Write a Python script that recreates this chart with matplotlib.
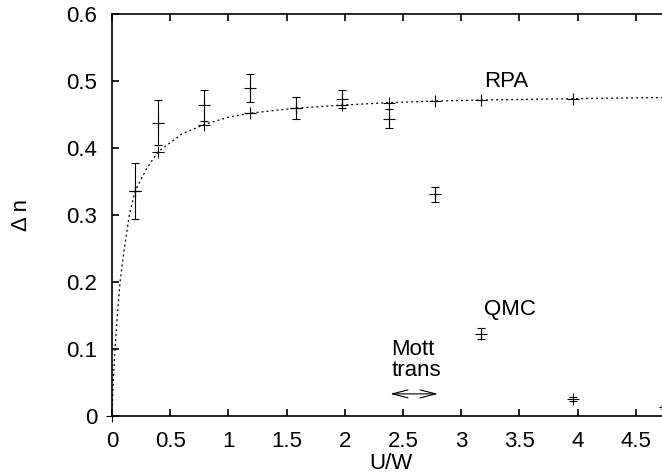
#!/usr/bin/env python3

import matplotlib
matplotlib.use('Agg')
import matplotlib.pyplot as plt

# RPA curve (dotted line)
rpa_curve_x = [0, 0.004, 0.01, 0.026, 0.046, 0.069, 0.106, 0.149, 0.198, 0.3, 0.396,
               0.6, 0.792, 1.0, 1.188, 1.584, 1.98, 2.376, 2.772, 3.168, 3.96, 4.8]
rpa_curve_y = [0, 0.02, 0.05, 0.1, 0.15, 0.2, 0.25, 0.3, 0.336, 0.37, 0.3945,
               0.421, 0.435, 0.446, 0.452, 0.4595, 0.464, 0.4677, 0.470, 0.4716, 0.4736, 0.4755]

# RPA points (+ markers)
rpa_x = [0, 0.198, 0.396, 0.792, 1.188, 1.584, 1.98, 2.376, 2.772, 3.168, 3.96]
rpa_y = [0, 0.336, 0.3945, 0.435, 0.452, 0.459, 0.464, 0.4677, 0.470, 0.4716, 0.4736]

# QMC points with error bars
qmc_x = [0.198, 0.396, 0.792, 1.188, 1.584, 1.98, 2.376, 2.772, 3.168, 3.96, 4.752]
qmc_y = [0.336, 0.438, 0.464, 0.489, 0.460, 0.473, 0.444, 0.331, 0.123, 0.025, 0.014]
qmc_err = [0.042, 0.034, 0.023, 0.021, 0.016, 0.014, 0.0145, 0.011, 0.008, 0.003, 0.003]

x_ticks = [0, 0.5, 1, 1.5, 2, 2.5, 3, 3.5, 4, 4.5]
x_tick_labels = ['0', '0.5', '1', '1.5', '2', '2.5', '3', '3.5', '4', '4.5']
y_ticks = [0, 0.1, 0.2, 0.3, 0.4, 0.5, 0.6]
y_tick_labels = ['0', '0.1', '0.2', '0.3', '0.4', '0.5', '0.6']


def main():
    plt.rcParams['font.family'] = ['Liberation Sans', 'DejaVu Sans']
    plt.rcParams['font.size'] = 16

    fig = plt.figure(figsize=(6.62, 4.76), dpi=100)
    # the original was cropped on the right, so the axes run past the edge
    ax = fig.add_axes([112 / 662, 60 / 476, 558.7 / 662, 402 / 476])

    ax.plot(rpa_curve_x, rpa_curve_y, color='black', lw=0.9,
            linestyle=(0, (1.6, 2.4)))
    ax.plot(rpa_x, rpa_y, linestyle='none', marker='+', color='black',
            markersize=8, markeredgewidth=0.8, clip_on=False)
    ax.errorbar(qmc_x, qmc_y, yerr=qmc_err, fmt='+', color='black',
                markersize=8, markeredgewidth=0.8, elinewidth=0.8,
                capsize=2.6, capthick=0.8)

    ax.text(3.2, 0.499, 'RPA', ha='left', va='center')
    ax.text(3.2, 0.159, 'QMC', ha='left', va='center')
    ax.text(2.40, 0.0836, 'Mott\ntrans', ha='left', va='center', linespacing=0.95)
    ax.annotate('', xy=(2.39, 0.033), xytext=(2.80, 0.033),
                arrowprops=dict(arrowstyle='<->,head_length=0.7,head_width=0.18',
                                color='black', lw=0.8, shrinkA=0, shrinkB=0))

    ax.set_xlim(0, 4.8)
    ax.set_ylim(0, 0.6)
    ax.set_xticks(x_ticks)
    ax.set_xticklabels(x_tick_labels)
    ax.set_yticks(y_ticks)
    ax.set_yticklabels(y_tick_labels)
    ax.tick_params(direction='in', top=True, right=True, length=5, width=1.2)
    ax.tick_params(axis='x', pad=11)
    ax.tick_params(axis='y', pad=10.5)
    for spine in ax.spines.values():
        spine.set_linewidth(1.2)

    ax.set_xlabel('U/W')
    ax.xaxis.set_label_coords(0.5, -0.093)
    ax.set_ylabel('Δ n')
    ax.yaxis.set_label_coords(-0.143, 0.5)

    fig.savefig('out.png', dpi=100)


if __name__ == '__main__':
    main()
